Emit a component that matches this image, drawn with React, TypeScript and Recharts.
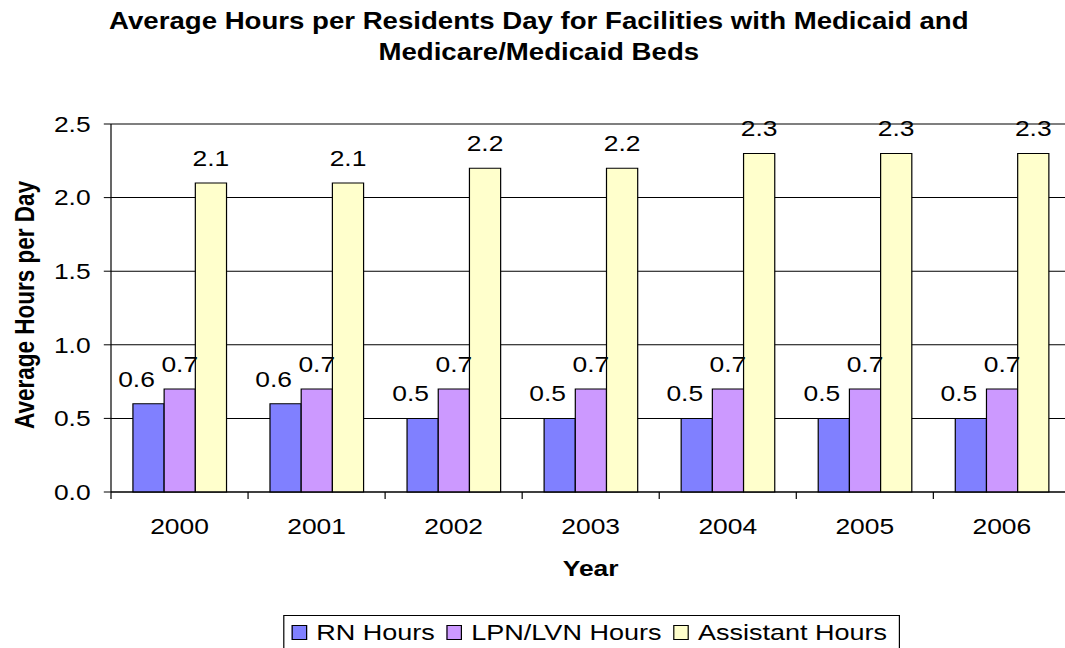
import React from 'react';
import { BarChart, Bar, XAxis, YAxis, CartesianGrid, LabelList } from 'recharts';

const years = ['2000', '2001', '2002', '2003', '2004', '2005', '2006'];
const rnHours = [0.6, 0.6, 0.5, 0.5, 0.5, 0.5, 0.5];
const lpnHours = [0.7, 0.7, 0.7, 0.7, 0.7, 0.7, 0.7];
const assistantHours = [2.1, 2.1, 2.2, 2.2, 2.3, 2.3, 2.3];
const yTicks = [0, 0.5, 1.0, 1.5, 2.0, 2.5];

const seriesNames = ['RN Hours', 'LPN/LVN Hours', 'Assistant Hours'];
const seriesColors = ['#8080FF', '#CC99FF', '#FFFFCC'];

const data = years.map((y, i) => ({
  year: y,
  rn: rnHours[i],
  lpn: lpnHours[i],
  assistant: assistantHours[i],
}));

const FONT = '"Liberation Sans", Arial, Helvetica, sans-serif';
const SCALE_X = 1.2;

const XTick = (props: any) => {
  const { x, y, payload, index, visibleTicksCount } = props;
  const half = payload && payload.offset ? payload.offset : 0;
  const isLast = index === (visibleTicksCount ?? years.length) - 1;
  return (
    <g>
      <line x1={x - half} y1={y} x2={x - half} y2={y + 7} stroke="#000" strokeWidth={1} />
      {isLast ? <line x1={x + half} y1={y} x2={x + half} y2={y + 7} stroke="#000" strokeWidth={1} /> : null}
      <text x={x} y={y + 42} textAnchor="middle" fontSize={22} fill="#000" fontFamily={FONT}>
        {payload.value}
      </text>
    </g>
  );
};

const YLabel = (props: any) => {
  const vb = props.viewBox || {};
  const cx = vb.x - 4.5;
  const cy = vb.y + vb.height / 2 - 3;
  return (
    <text
      x={cx}
      y={cy}
      transform={`rotate(-90, ${cx}, ${cy})`}
      textAnchor="middle"
      fontSize={22.5}
      fontWeight="bold"
      fill="#000"
      fontFamily={FONT}
    >
      Average Hours per Day
    </text>
  );
};

const XLabel = (props: any) => {
  const vb = props.viewBox || {};
  const cx = vb.x + vb.width / 2;
  return (
    <text x={cx} y={vb.y + 84} textAnchor="middle" fontSize={22} fontWeight="bold" fill="#000" fontFamily={FONT}>
      Year
    </text>
  );
};

const fmt = (v: any) => Number(v).toFixed(1);

export default function App() {
  return (
    <div style={{ position: 'absolute', left: 0, top: 0, width: 1065, height: 648, overflow: 'hidden', background: '#fff' }}>
      <div
        style={{
          position: 'absolute',
          left: 0,
          top: 0,
          width: 892,
          height: 648,
          transform: `scaleX(${SCALE_X})`,
          transformOrigin: '0 0',
          fontFamily: FONT,
        }}
      >
        <div
          style={{
            position: 'absolute',
            left: 0,
            top: 5.5,
            width: 898,
            textAlign: 'center',
            fontWeight: 'bold',
            fontSize: 23,
            lineHeight: '31px',
            color: '#000',
          }}
        >
          Average Hours per Residents Day for Facilities with Medicaid and
          <br />
          Medicare/Medicaid Beds
        </div>
        <BarChart
          width={892}
          height={648}
          data={data}
          margin={{ top: 124, right: 0, bottom: 126, left: 32.5 }}
          barCategoryGap="16%"
          barGap={0}
        >
          <CartesianGrid vertical={false} stroke="#000" strokeWidth={1} />
          <XAxis
            dataKey="year"
            height={30}
            tickSize={0}
            tickMargin={0}
            tickLine={false}
            axisLine={{ stroke: '#000', strokeWidth: 1 }}
            tick={<XTick />}
            interval={0}
            label={<XLabel />}
          />
          <YAxis
            width={60}
            domain={[0, 2.5]}
            ticks={yTicks}
            tickFormatter={fmt}
            tickSize={6}
            tickMargin={11}
            axisLine={{ stroke: '#000', strokeWidth: 1 }}
            tickLine={{ stroke: '#000', strokeWidth: 1 }}
            tick={{ fontSize: 22, fill: '#000', fontFamily: FONT }}
            label={<YLabel />}
          />
          <Bar dataKey="rn" name={seriesNames[0]} fill={seriesColors[0]} stroke="#000" strokeWidth={1} isAnimationActive={false}>
            <LabelList dataKey="rn" position="top" offset={17} formatter={fmt} fontSize={22} fill="#000" dx={-10} />
          </Bar>
          <Bar dataKey="lpn" name={seriesNames[1]} fill={seriesColors[1]} stroke="#000" strokeWidth={1} isAnimationActive={false}>
            <LabelList dataKey="lpn" position="top" offset={17} formatter={fmt} fontSize={22} fill="#000" />
          </Bar>
          <Bar dataKey="assistant" name={seriesNames[2]} fill={seriesColors[2]} stroke="#000" strokeWidth={1} isAnimationActive={false}>
            <LabelList dataKey="assistant" position="top" offset={17} formatter={fmt} fontSize={22} fill="#000" />
          </Bar>
        </BarChart>
        <div
          style={{
            position: 'absolute',
            left: 236,
            top: 615,
            width: 514,
            height: 44,
            border: '1px solid #000',
            boxSizing: 'border-box',
            display: 'flex',
            alignItems: 'flex-start',
            paddingLeft: 6,
            paddingTop: 4,
            fontSize: 22.5,
            lineHeight: '25px',
            color: '#000',
            whiteSpace: 'nowrap',
          }}
        >
          {seriesNames.map((n, i) => (
            <div key={n} style={{ display: 'flex', alignItems: 'center', marginRight: 10 }}>
              <span
                style={{
                  display: 'inline-block',
                  width: 12.5,
                  height: 15,
                  background: seriesColors[i],
                  border: '1px solid #000',
                  boxSizing: 'border-box',
                  marginRight: 8,
                }}
              />
              <span>{n}</span>
            </div>
          ))}
        </div>
      </div>
    </div>
  );
}
